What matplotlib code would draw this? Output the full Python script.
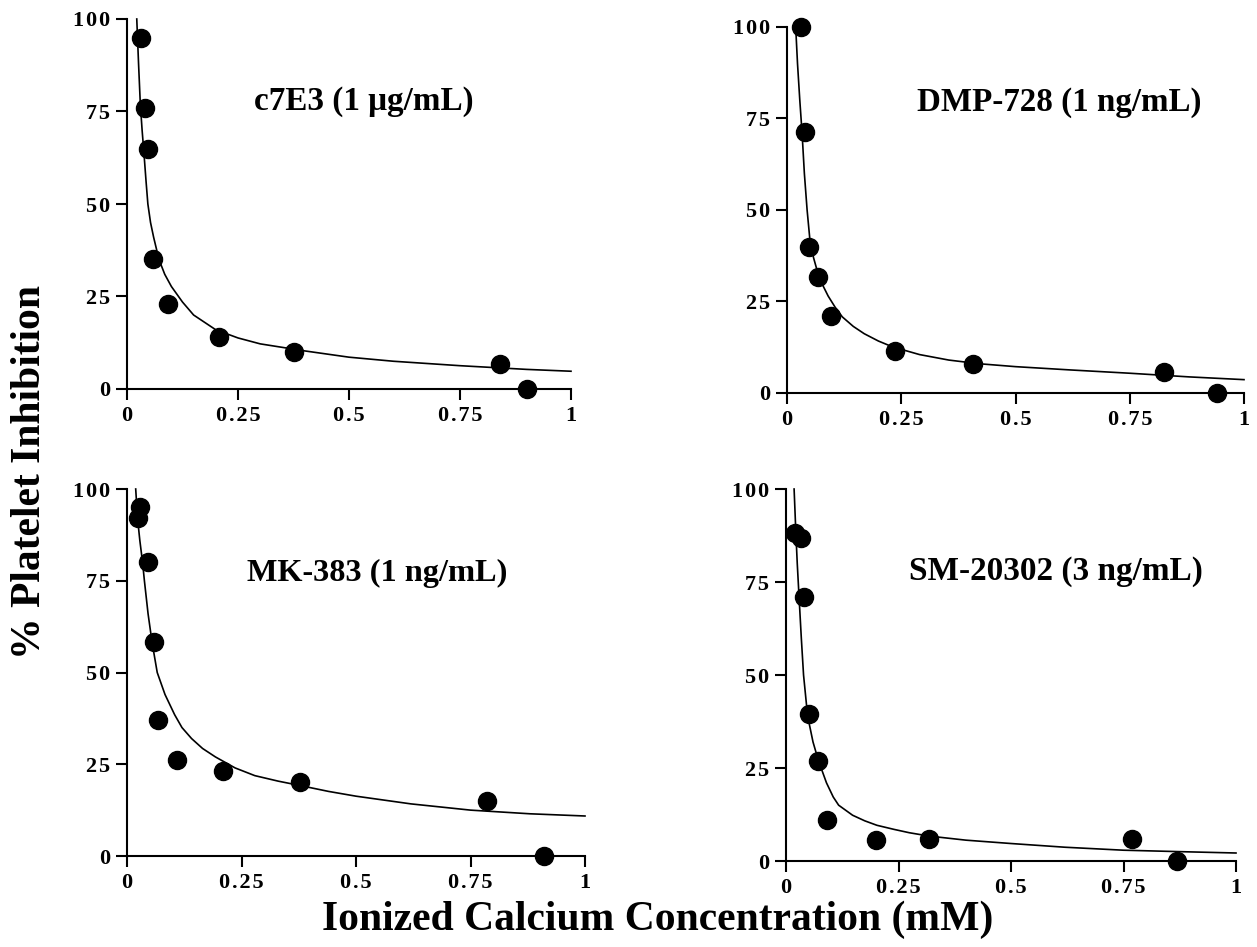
import matplotlib
matplotlib.use('Agg')
import matplotlib.pyplot as plt

plt.rcParams['font.family'] = 'Liberation Serif'
plt.rcParams['font.weight'] = 'bold'

# 패널 제목
titles = ['c7E3 (1 \u03bcg/mL)', 'DMP-728 (1 ng/mL)', 'MK-383 (1 ng/mL)', 'SM-20302 (3 ng/mL)']

c7e3_x = [0.031, 0.040, 0.047, 0.058, 0.092, 0.208, 0.376, 0.840, 0.900]
c7e3_y = [94.9, 75.9, 64.9, 35.0, 23.1, 14.0, 9.9, 6.8, 0.0]
dmp_x = [0.030, 0.039, 0.048, 0.067, 0.097, 0.236, 0.407, 0.826, 0.941]
dmp_y = [100.0, 71.3, 39.8, 31.8, 21.0, 11.4, 7.8, 5.7, 0.0]
mk_x = [0.028, 0.025, 0.046, 0.059, 0.068, 0.109, 0.210, 0.378, 0.787, 0.911]
mk_y = [95.0, 92.2, 80.2, 58.2, 37.1, 26.2, 23.1, 20.1, 15.0, 0.0]
sm_x = [0.020, 0.033, 0.041, 0.051, 0.070, 0.091, 0.200, 0.318, 0.768, 0.868]
sm_y = [88.1, 86.9, 71.0, 39.4, 26.9, 11.0, 5.6, 6.0, 6.0, 0.0]

# 피팅 곡선
c7e3_cx = [0.022, 0.026, 0.030, 0.034, 0.038, 0.043, 0.047, 0.053, 0.06, 0.072, 0.085, 0.1, 0.125,
           0.15, 0.2, 0.25, 0.3, 0.4, 0.5, 0.6, 0.75, 0.9, 1.0]
c7e3_cy = [100, 88, 77, 70, 64, 56, 50, 45, 41, 35, 31, 27.7, 23.5, 20, 16, 13.8, 12.2, 10.3, 8.6,
           7.5, 6.3, 5.3, 4.8]
dmp_cx = [0.019, 0.023, 0.028, 0.033, 0.038, 0.044, 0.050, 0.058, 0.067, 0.078, 0.09, 0.105, 0.121,
          0.145, 0.169, 0.2, 0.231, 0.29, 0.354, 0.42, 0.5, 0.62, 0.75, 0.88, 1.0]
dmp_cy = [100, 90, 80, 71, 60, 50, 42, 37, 33, 29.5, 26.5, 23.5, 20.8, 18.2, 16.2, 14.2, 12.6, 10.5,
          9.0, 8.0, 7.2, 6.3, 5.4, 4.4, 3.65]
mk_cx = [0.019, 0.023, 0.028, 0.034, 0.038, 0.046, 0.055, 0.066, 0.083, 0.104, 0.12, 0.141, 0.165,
         0.193, 0.236, 0.279, 0.33, 0.378, 0.44, 0.5, 0.62, 0.75, 0.88, 1.0]
mk_cy = [100, 92, 86, 80, 75, 66, 58, 50, 44, 38.5, 35, 32, 29.3, 27, 24, 21.9, 20.4, 19.2, 17.6,
         16.3, 14.2, 12.5, 11.5, 10.9]
sm_cx = [0.018, 0.022, 0.025, 0.029, 0.034, 0.039, 0.048, 0.06, 0.072, 0.090, 0.105, 0.117, 0.148,
         0.175, 0.202, 0.24, 0.274, 0.318, 0.4, 0.5, 0.62, 0.75, 0.88, 1.0]
sm_cy = [100, 88, 80, 71, 60, 50, 39, 32, 27, 21, 17.2, 15, 12.3, 10.8, 9.6, 8.5, 7.6, 6.7, 5.6, 4.7,
         3.7, 2.9, 2.5, 2.15]

points = [(c7e3_x, c7e3_y), (dmp_x, dmp_y), (mk_x, mk_y), (sm_x, sm_y)]
curves = [(c7e3_cx, c7e3_cy), (dmp_cx, dmp_cy), (mk_cx, mk_cy), (sm_cx, sm_cy)]

xticks = [0, 0.25, 0.5, 0.75, 1]
xtick_labels = ['0', '0.25', '0.5', '0.75', '1']
yticks = [0, 25, 50, 75, 100]
ytick_labels = ['0', '25', '50', '75', '100']


def spaced(s):
    # 원본처럼 글자 간격을 조금 넓힘
    return '\u200a'.join(s)


W, H = 1257, 947
fig = plt.figure(figsize=(W / 100, H / 100), dpi=100)
renderer = fig.canvas.get_renderer()

# 각 패널의 픽셀 위치 (left, right, top, bottom)
boxes = [(127, 571, 19, 389), (787, 1244, 27, 393), (127, 585, 489, 856), (786, 1236, 489, 861)]
# 제목 위치/폭 (축 비율)
title_x = [0.533, 0.595, 0.546, 0.599]
title_y = [0.776, 0.795, 0.770, 0.778]
title_w = [0.493, 0.622, 0.568, 0.650]

for i in range(4):
    l, r, t, b = boxes[i]
    ax = fig.add_axes([l / W, 1 - b / H, (r - l) / W, (b - t) / H])
    cx, cy = curves[i]
    ax.plot(cx, cy, color='black', lw=1.2, clip_on=False)
    px, py = points[i]
    ax.plot(px, py, 'o', color='black', ms=13, clip_on=False)
    ax.set_xlim(0, 1)
    ax.set_ylim(0, 100)
    ax.spines['top'].set_visible(False)
    ax.spines['right'].set_visible(False)
    ax.spines['left'].set_linewidth(1.5)
    ax.spines['bottom'].set_linewidth(1.5)
    ax.set_xticks(xticks)
    ax.set_xticklabels([spaced(s) for s in xtick_labels])
    ax.set_yticks(yticks)
    ax.set_yticklabels([spaced(s) for s in ytick_labels])
    ax.tick_params(direction='out', length=8, width=1.5, labelsize=16, pad=4)
    for lab in ax.get_xticklabels() + ax.get_yticklabels():
        lab.set_fontweight('bold')
    txt = ax.text(title_x[i], title_y[i], titles[i], transform=ax.transAxes,
                  ha='center', va='center', fontsize=22, fontweight='bold')
    # 원본 폭에 맞게 글자 크기 조정
    w_now = txt.get_window_extent(renderer).width
    txt.set_fontsize(22 * title_w[i] * (r - l) / w_now)

fig.text(30 / W, 1 - 472 / H, '% Platelet Inhibition', rotation=90,
         ha='center', va='center', fontsize=30, fontweight='bold')
fig.text(658 / W, 1 - 920 / H, 'Ionized Calcium Concentration (mM)',
         ha='center', va='center', fontsize=30, fontweight='bold')

fig.savefig('out.png', dpi=100)
